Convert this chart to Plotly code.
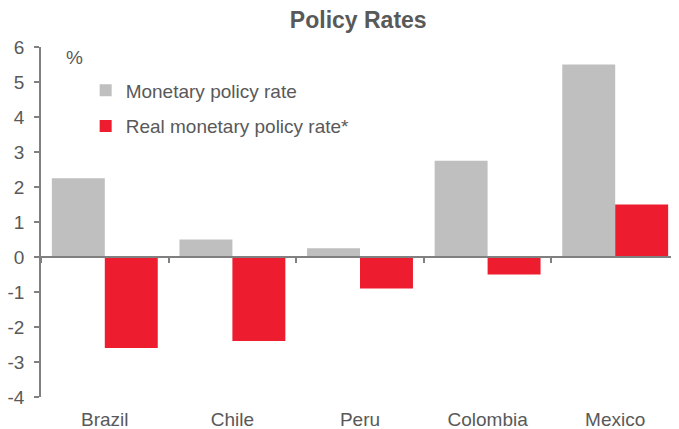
import plotly.graph_objects as go

countries = ["Brazil", "Chile", "Peru", "Colombia", "Mexico"]
policy_rate = [2.25, 0.5, 0.25, 2.75, 5.5]
real_policy_rate = [-2.6, -2.4, -0.9, -0.5, 1.5]
y_ticks = [-4, -3, -2, -1, 0, 1, 2, 3, 4, 5, 6]
y_tick_labels = [str(v) for v in y_ticks]

TXT = "#595959"
AX = "#808080"
FONT = "Liberation Sans, Arial, sans-serif"

fig = go.Figure()
fig.add_trace(go.Bar(x=countries, y=policy_rate, name="Monetary policy rate",
                     marker=dict(color="#BFBFBF", line=dict(width=0)), legendgroup="a"))
fig.add_trace(go.Bar(x=countries, y=real_policy_rate, name="Real monetary policy rate*",
                     marker=dict(color="#ED1C2E", line=dict(width=0)), legendgroup="b"))
# invisible trace for the zero-line axis
fig.add_trace(go.Scatter(x=countries, y=[0]*5, xaxis="x2", mode="markers",
                         marker=dict(opacity=0), showlegend=False, hoverinfo="skip"))

fig.update_layout(
    width=671, height=421,
    margin=dict(l=33, r=0, t=39, b=32),
    paper_bgcolor="white", plot_bgcolor="white",
    font=dict(family=FONT, color=TXT, size=19),
    title=dict(text="<b>Policy Rates</b>", x=0.522, xanchor="center", y=0.972, yanchor="middle",
               font=dict(size=23, color=TXT, family=FONT)),
    barmode="group", bargap=0.17, bargroupgap=0,
    showlegend=True,
    legend=dict(x=0.07, y=0.93, xanchor="left", yanchor="top", bgcolor="rgba(0,0,0,0)",
                font=dict(size=19, color=TXT), traceorder="grouped", tracegroupgap=8,
                itemwidth=30),
    xaxis=dict(type="category", categoryarray=countries, range=[-0.5, 4.5],
               showline=False, ticks="", showgrid=False, zeroline=False,
               ticklabelstandoff=9, tickfont=dict(size=19, color=TXT)),
    xaxis2=dict(type="category", categoryarray=countries, range=[-0.5, 4.5],
                overlaying="x", anchor="free", position=0.4, matches="x",
                showline=True, linecolor=AX, linewidth=1.5,
                ticks="outside", tickson="boundaries", ticklen=5, tickcolor=AX,
                tickwidth=1.5, showticklabels=False, showgrid=False, zeroline=False),
    yaxis=dict(range=[-4, 6], tickvals=y_ticks, ticktext=y_tick_labels, showline=True,
               linecolor=AX, linewidth=1.5, ticks="outside", ticklen=5, tickcolor=AX,
               tickwidth=1.5, showgrid=False, zeroline=False, ticklabelstandoff=6,
               tickfont=dict(size=19, color=TXT)),
    annotations=[dict(text="%", x=0.053, xref="paper", y=0.971, yref="paper",
                      xanchor="center", yanchor="middle",
                      showarrow=False, font=dict(size=19, color=TXT))],
)

fig.write_html("out.html")
